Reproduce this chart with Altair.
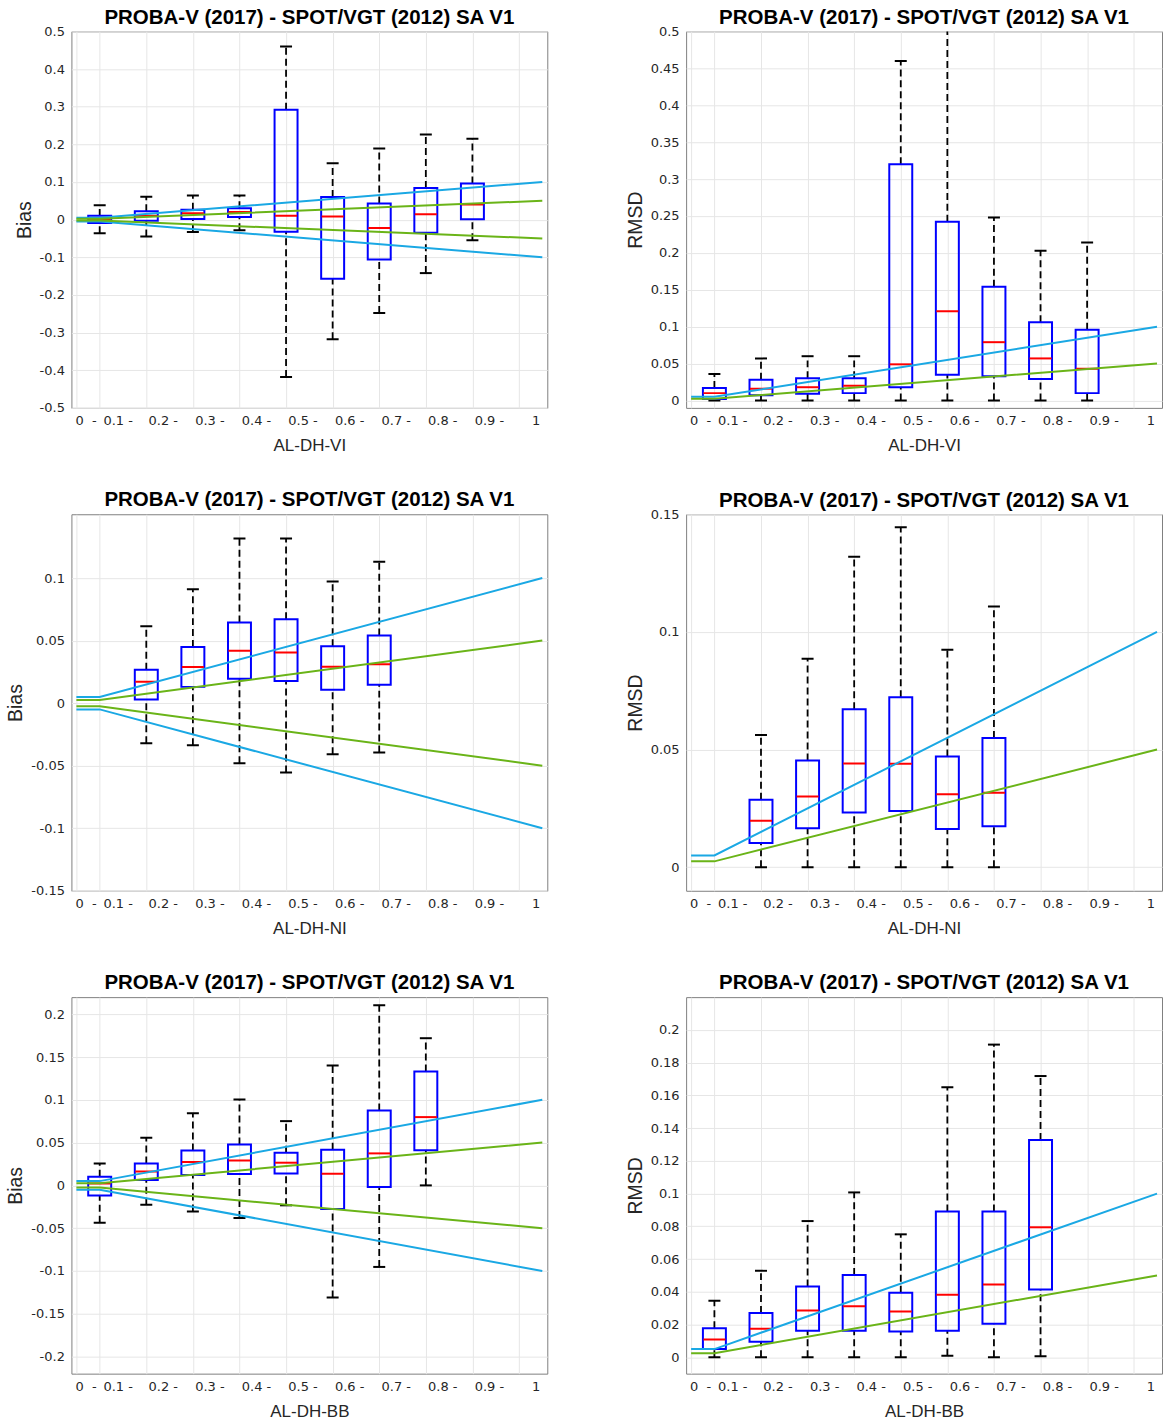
import altair as alt
import pandas as pd

TITLE = "PROBA-V (2017) - SPOT/VGT (2012) SA V1"
FIG = "\u2007"
XTICK_VALUES = [0.5, 1, 2, 3, 4, 5, 6, 7, 8, 9, 10]
XTICK_LABELS = ["0" + FIG + "-", "0.1 -", "0.2 -", "0.3 -", "0.4 -", "0.5 -",
                "0.6 -", "0.7 -", "0.8 -", "0.9 -", "1"]

# threshold (requirement) lines
LINE_X = [0.5, 1, 10.5]
CYAN_LIMIT = [0.005, 0.005, 0.1]
GREEN_LIMIT = [0.0025, 0.0025, 0.05]
CYAN = "#1aa8e4"
GREEN = "#6ab418"

# ---------- AL-DH-VI ----------
VI_POS = [1, 2, 3, 4, 5, 6, 7, 8, 9]
VI_BIAS_WLO = [-0.036, -0.045, -0.033, -0.028, -0.418, -0.318, -0.248, -0.142, -0.055]
VI_BIAS_Q1 = [-0.009, -0.003, 0.002, 0.007, -0.032, -0.157, -0.106, -0.035, 0.001]
VI_BIAS_MED = [0.001, 0.010, 0.017, 0.020, 0.010, 0.008, -0.022, 0.014, 0.040]
VI_BIAS_Q3 = [0.010, 0.022, 0.026, 0.030, 0.292, 0.060, 0.043, 0.084, 0.096]
VI_BIAS_WHI = [0.038, 0.061, 0.064, 0.064, 0.460, 0.150, 0.189, 0.226, 0.215]

VI_RMSD_WLO = [0, 0, 0, 0, 0, 0, 0, 0, 0]
VI_RMSD_Q1 = [0.002, 0.007, 0.009, 0.010, 0.018, 0.035, 0.033, 0.029, 0.010]
VI_RMSD_MED = [0.010, 0.016, 0.018, 0.020, 0.049, 0.121, 0.079, 0.057, 0.043]
VI_RMSD_Q3 = [0.017, 0.028, 0.030, 0.030, 0.320, 0.242, 0.154, 0.106, 0.096]
VI_RMSD_WHI = [0.036, 0.057, 0.060, 0.060, 0.460, 0.530, 0.248, 0.203, 0.214]

# ---------- AL-DH-NI ----------
NI_POS = [2, 3, 4, 5, 6, 7]
NI_BIAS_WLO = [-0.032, -0.0336, -0.048, -0.0554, -0.0408, -0.0395]
NI_BIAS_Q1 = [0.003, 0.013, 0.0195, 0.0177, 0.0107, 0.0147]
NI_BIAS_MED = [0.017, 0.0288, 0.0418, 0.0405, 0.029, 0.031]
NI_BIAS_Q3 = [0.0267, 0.0448, 0.0644, 0.067, 0.0455, 0.054]
NI_BIAS_WHI = [0.0615, 0.091, 0.1316, 0.1316, 0.0973, 0.113]

NI_RMSD_WLO = [0, 0, 0, 0, 0, 0]
NI_RMSD_Q1 = [0.0103, 0.0166, 0.0233, 0.0239, 0.0163, 0.0174]
NI_RMSD_MED = [0.0198, 0.0301, 0.0441, 0.044, 0.031, 0.0316]
NI_RMSD_Q3 = [0.0287, 0.0454, 0.0671, 0.0722, 0.0471, 0.0549]
NI_RMSD_WHI = [0.0562, 0.0886, 0.1319, 0.1445, 0.0924, 0.1108]

# ---------- AL-DH-BB ----------
BB_POS = [1, 2, 3, 4, 5, 6, 7, 8]
BB_BIAS_WLO = [-0.0436, -0.0226, -0.0304, -0.0381, -0.0233, -0.131, -0.0953, 0.0]
BB_BIAS_Q1 = [-0.0117, 0.0062, 0.0121, 0.0132, 0.014, -0.0276, -0.002, 0.0412]
BB_BIAS_MED = [0.0023, 0.0163, 0.0272, 0.0292, 0.0265, 0.0136, 0.0374, 0.0798]
BB_BIAS_Q3 = [0.0101, 0.0257, 0.0409, 0.0479, 0.0381, 0.0416, 0.0875, 0.133]
BB_BIAS_WHI = [0.0257, 0.0556, 0.0844, 0.1004, 0.0751, 0.140, 0.2105, 0.172]

BB_RMSD_WLO = [0, 0, 0, 0, 0, 0.001, 0, 0.0006]
BB_RMSD_Q1 = [0.0051, 0.0095, 0.0162, 0.0162, 0.0158, 0.0162, 0.0205, 0.0414]
BB_RMSD_MED = [0.0108, 0.0175, 0.0286, 0.0311, 0.028, 0.0382, 0.0445, 0.0794]
BB_RMSD_Q3 = [0.0177, 0.027, 0.0432, 0.0502, 0.0394, 0.0891, 0.0891, 0.1328]
BB_RMSD_WHI = [0.0345, 0.0528, 0.0832, 0.1007, 0.0751, 0.1649, 0.191, 0.1718]

# axis tick values
YT_VI_BIAS = [-0.5, -0.4, -0.3, -0.2, -0.1, 0, 0.1, 0.2, 0.3, 0.4, 0.5]
YT_VI_RMSD = [0, 0.05, 0.1, 0.15, 0.2, 0.25, 0.3, 0.35, 0.4, 0.45, 0.5]
YT_NI_BIAS = [-0.15, -0.1, -0.05, 0, 0.05, 0.1]
YT_NI_RMSD = [0, 0.05, 0.1, 0.15]
YT_BB_BIAS = [-0.2, -0.15, -0.1, -0.05, 0, 0.05, 0.1, 0.15, 0.2]
YT_BB_RMSD = [0, 0.02, 0.04, 0.06, 0.08, 0.1, 0.12, 0.14, 0.16, 0.18, 0.2]

W = 476.5
H = 377


def x_label_expr():
    expr = "''"
    for v, lab in reversed(list(zip(XTICK_VALUES, XTICK_LABELS))):
        expr = f"datum.value == {v} ? '{lab}' : ({expr})"
    return expr


X_LABEL_OFFSET = {
    "condition": [
        {"test": "datum.value == 10", "value": 12.5},
        {"test": "datum.value == 0.5", "value": -1.5},
        {"test": "datum.value == 1", "value": 3.2},
    ],
    "value": 1.8,
}


def panel(pos, wlo, q1, med, q3, whi, ytitle, xtitle, ydomain, yticks, signed):
    df = pd.DataFrame(dict(pos=pos, wlo=wlo, q1=q1, med=med, q3=q3, whi=whi))
    xscale = alt.Scale(domain=[0.5, 10.5], nice=False, zero=False)
    yscale = alt.Scale(domain=ydomain, nice=False, zero=False)
    xaxis = alt.Axis(values=XTICK_VALUES, labelExpr=x_label_expr(), labelAlign="left",
                     labelOffset=X_LABEL_OFFSET, labelOverlap=False, labelFlush=False)
    yaxis = alt.Axis(values=yticks, format=".2~f",
                     labelExpr="replace(datum.label, '\u2212', '-')")

    def X(field):
        return alt.X(f"{field}:Q", scale=xscale, axis=xaxis, title=xtitle)

    def Y(field):
        return alt.Y(f"{field}:Q", scale=yscale, axis=yaxis, title=ytitle)

    base = alt.Chart(df)
    dash = dict(color="black", strokeDash=[7, 4], strokeWidth=1.8, clip=True)
    upper = base.mark_rule(**dash).encode(x=X("pos"), y=Y("q3"), y2="whi:Q")
    lower = base.mark_rule(**dash).encode(x=X("pos"), y=Y("wlo"), y2="q1:Q")
    cap_hi = base.mark_tick(orient="horizontal", size=12, thickness=2, color="black",
                            opacity=1, clip=True).encode(x=X("pos"), y=Y("whi"))
    cap_lo = base.mark_tick(orient="horizontal", size=12, thickness=2, color="black",
                            opacity=1, clip=True).encode(x=X("pos"), y=Y("wlo"))
    box = base.mark_bar(size=23, filled=False, color="#0000ff", strokeWidth=2,
                        opacity=1, clip=True).encode(x=X("pos"), y=Y("q1"), y2="q3:Q")
    median = base.mark_tick(orient="horizontal", size=22, thickness=2, color="#ff0000",
                            opacity=1, clip=True).encode(x=X("pos"), y=Y("med"))

    rows = []
    signs = [1, -1] if signed else [1]
    for s in signs:
        for kind, vals in (("cyan", CYAN_LIMIT), ("green", GREEN_LIMIT)):
            for xv, yv in zip(LINE_X, vals):
                rows.append(dict(x=xv, y=s * yv, kind=kind, series=f"{kind}{s}"))
    ldf = pd.DataFrame(rows)
    lines = alt.Chart(ldf).mark_line(strokeWidth=2, clip=True).encode(
        x=X("x"), y=Y("y"),
        color=alt.Color("kind:N", scale=alt.Scale(domain=["cyan", "green"], range=[CYAN, GREEN]),
                        legend=None),
        detail="series:N",
    )
    # a tick label sitting on the top edge pushes the title up; compensate otherwise
    top_label = abs(yticks[-1] - ydomain[1]) < 1e-9
    title = alt.TitleParams(TITLE, offset=-3 if top_label else 3.5)
    return alt.layer(upper, lower, cap_hi, cap_lo, box, median, lines).properties(
        width=W, height=H, title=title)


charts = [
    panel(VI_POS, VI_BIAS_WLO, VI_BIAS_Q1, VI_BIAS_MED, VI_BIAS_Q3, VI_BIAS_WHI,
          "Bias", "AL-DH-VI", [-0.5, 0.5], YT_VI_BIAS, True),
    panel(VI_POS, VI_RMSD_WLO, VI_RMSD_Q1, VI_RMSD_MED, VI_RMSD_Q3, VI_RMSD_WHI,
          "RMSD", "AL-DH-VI", [-0.01, 0.5], YT_VI_RMSD, False),
    panel(NI_POS, NI_BIAS_WLO, NI_BIAS_Q1, NI_BIAS_MED, NI_BIAS_Q3, NI_BIAS_WHI,
          "Bias", "AL-DH-NI", [-0.15, 0.151], YT_NI_BIAS, True),
    panel(NI_POS, NI_RMSD_WLO, NI_RMSD_Q1, NI_RMSD_MED, NI_RMSD_Q3, NI_RMSD_WHI,
          "RMSD", "AL-DH-NI", [-0.01, 0.15], YT_NI_RMSD, False),
    panel(BB_POS, BB_BIAS_WLO, BB_BIAS_Q1, BB_BIAS_MED, BB_BIAS_Q3, BB_BIAS_WHI,
          "Bias", "AL-DH-BB", [-0.22, 0.22], YT_BB_BIAS, True),
    panel(BB_POS, BB_RMSD_WLO, BB_RMSD_Q1, BB_RMSD_MED, BB_RMSD_Q3, BB_RMSD_WHI,
          "RMSD", "AL-DH-BB", [-0.01, 0.22], YT_BB_RMSD, False),
]

chart = alt.concat(*charts, columns=2, spacing={"row": 106.5, "column": 138.5},
                   bounds="flush").properties(
    padding={"left": 4.5, "top": 6.5, "right": 0, "bottom": 0}
).configure(
    font="DejaVu Sans"
).configure_view(
    stroke="#7f7f7f", strokeWidth=1
).configure_axis(
    grid=True, gridColor="#e6e6e6", gridWidth=1, domain=False, ticks=False, tickSize=0,
    labelFont="DejaVu Sans", labelFontSize=13, labelColor="#262626",
    titleColor="#262626", titleFontWeight="normal"
).configure_axisX(
    labelPadding=6.5, labelBaseline="top", titleFont="Liberation Sans", titleFontSize=17,
    titlePadding=10
).configure_axisY(
    labelPadding=7, titleFont="Liberation Sans", titleFontSize=19.5, titlePadding=5
).configure_title(
    font="Liberation Sans", fontSize=20.5, fontWeight="bold", color="#000000",
    anchor="middle"
)

chart.save("out.html", embed_options={"renderer": "svg", "actions": False})
